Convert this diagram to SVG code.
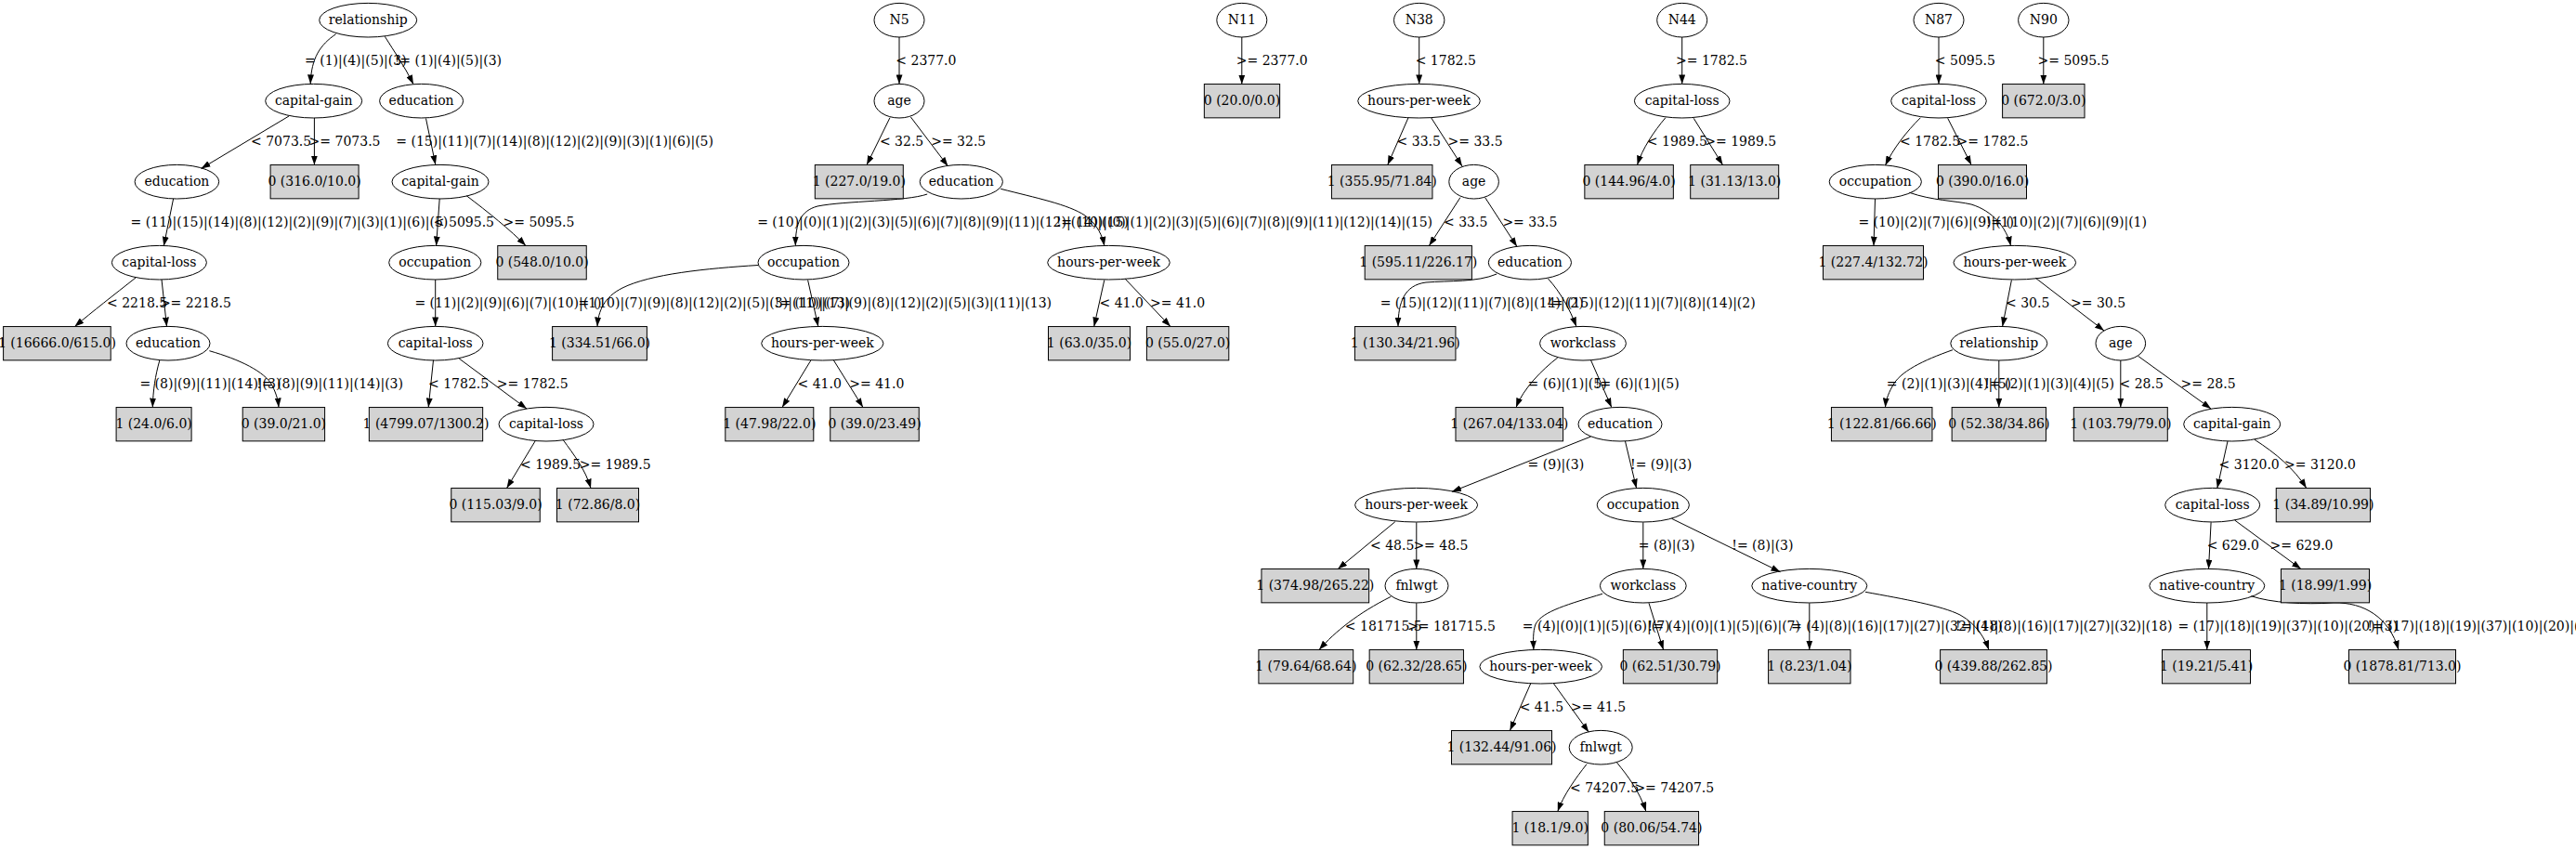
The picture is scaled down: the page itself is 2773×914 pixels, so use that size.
<svg xmlns="http://www.w3.org/2000/svg" width="2773" height="914" viewBox="0 0 2773 914">
<style>
text{font-family:"DejaVu Serif","Liberation Serif",serif;font-size:14px;fill:#000}
.node ellipse{fill:none;stroke:#000;stroke-width:1}
.leaf rect{fill:#d3d3d3;stroke:#000;stroke-width:1}
.node text,.leaf text{text-anchor:middle}
#connectors path{fill:none;stroke:#000;stroke-width:1;marker-end:url(#ah)}
.s{text-anchor:start}.e{text-anchor:end}
</style>
<defs>
<marker id="ah" markerUnits="userSpaceOnUse" markerWidth="10" markerHeight="7" refX="10" refY="3.5" orient="auto"><path d="M0,0 L10,3.5 L0,7 z" fill="#000"/></marker>
</defs>
<rect width="2773" height="914" fill="#fff"/>
<g id="connectors">
<path d="M361.6,36.7 C345,48 335,62 334.2,90.4"/>
<path d="M414.3,39.3 C424,55 436,72 445,90.7"/>
<path d="M311,125 L216.5,181.5"/>
<path d="M338.4,127 L338.4,177.55"/>
<path d="M458.5,127.5 L468.8,177.3"/>
<path d="M186.6,214 L176.3,264.8"/>
<path d="M473.2,214 L469.6,264.5"/>
<path d="M502.2,210.7 C525,228 550,248 566,264.55"/>
<path d="M146,299 C122,318 100,335 80.4,351.55"/>
<path d="M174,301 L179.5,351.6"/>
<path d="M468.7,301 L468.7,351.4"/>
<path d="M171.9,387.7 C167,405 164.8,420 164.3,438.55"/>
<path d="M225.4,377.7 C258,387 285,400 293,415 C298,425 299.5,432 300,438.55"/>
<path d="M466.5,387.7 L461.2,438.55"/>
<path d="M494.2,386 L567,440"/>
<path d="M576,475 L545.5,525.55"/>
<path d="M606,473.3 C618,490 630,505 636,525.55"/>
<path d="M968,40 L968,90.4"/>
<path d="M958,126.7 L933,177.55"/>
<path d="M980.4,126 L1020.5,179"/>
<path d="M998.2,209 C975,217 910,216 880,222 C862,227 856.3,240 856.3,264.5"/>
<path d="M1077.2,203.3 C1115,213 1150,220 1168,232 C1182,242 1187,255 1188.8,264.7"/>
<path d="M816,285.5 C760,289 700,295 670,310 C650,320 644,335 643,351.55"/>
<path d="M869.6,301.5 L880.8,351.5"/>
<path d="M1188.8,301.5 L1177.7,351.55"/>
<path d="M1211,300 L1260,351.55"/>
<path d="M873,387.7 L842,438.55"/>
<path d="M897.3,387.7 L929,438.55"/>
<path d="M1336.8,40 L1336.8,90.55"/>
<path d="M1527.7,40 L1527.7,90.4"/>
<path d="M1516,126.7 L1493.75,177.55"/>
<path d="M1540.6,126.7 L1574,179"/>
<path d="M1571.9,212.7 L1538.4,264.55"/>
<path d="M1598.7,212.7 L1633,265.5"/>
<path d="M1611.2,295 C1590,304 1560,302 1535,304 C1512,307 1505,325 1505,351.55"/>
<path d="M1666.5,300 C1680,315 1690,333 1696.9,351.5"/>
<path d="M1676.8,385 C1660,398 1640,418 1632,438.55"/>
<path d="M1712.5,387.7 L1734.8,438.5"/>
<path d="M1712.5,470 L1563,529.3"/>
<path d="M1749.5,475 L1761.6,525.6"/>
<path d="M1501.8,561.7 L1440.2,612.55"/>
<path d="M1524.8,562.3 L1524.8,612.4"/>
<path d="M1768.8,562.3 L1768.8,612.4"/>
<path d="M1799.5,558.3 L1916.5,615.7"/>
<path d="M1497.3,642.3 C1462,660 1437,680 1420,699.55"/>
<path d="M1524.8,649.3 L1524.8,699.55"/>
<path d="M1725,639.3 C1690,650 1660,658 1653,672 C1650,680 1650.5,690 1650.9,699.6"/>
<path d="M1775,649.3 L1790.6,699.55"/>
<path d="M1947.8,649.3 L1947.8,699.55"/>
<path d="M2008,637.3 C2050,645 2090,652 2110,662 C2128,672 2137,688 2140.9,699.55"/>
<path d="M1647.8,735.7 L1625.4,786.55"/>
<path d="M1672.3,735.7 L1710.3,788.3"/>
<path d="M1708,822.7 C1696,838 1683,856 1676.8,873.55"/>
<path d="M1740.6,821 C1752,835 1765,852 1771.9,873.55"/>
<path d="M1810.7,40 L1810.7,90.4"/>
<path d="M1792.9,126.7 C1780,142 1768,160 1762.5,177.55"/>
<path d="M1823.2,127.3 L1854.5,177.55"/>
<path d="M2087,40 L2087,90.4"/>
<path d="M2067.4,126.7 C2052,142 2038,160 2029.5,178"/>
<path d="M2096.7,127.3 L2122.1,177.55"/>
<path d="M2018.5,214 L2017,264.55"/>
<path d="M2055.4,207.3 C2080,216 2105,216 2122,220 C2145,227 2160,245 2164.5,264.6"/>
<path d="M2165.4,301.5 L2155.6,351.5"/>
<path d="M2191.3,299.3 L2265,356"/>
<path d="M2102,376.7 C2070,388 2045,400 2037,416 C2032,425 2030,432 2029.5,438.55"/>
<path d="M2151.8,388 L2151.8,438.55"/>
<path d="M2282.8,388 L2282.8,438.55"/>
<path d="M2301.6,383.3 L2380.1,440"/>
<path d="M2398,475 L2386.8,525.6"/>
<path d="M2427,473.3 C2450,488 2470,505 2482.8,525.55"/>
<path d="M2380.1,562.3 L2377.5,612.5"/>
<path d="M2405.6,560 L2477,612.55"/>
<path d="M2375.8,649 L2375.8,699.55"/>
<path d="M2423.4,641.7 C2445,649 2480,651 2512,649 C2545,648 2572,665 2582,699.55"/>
<path d="M2199.8,40 L2199.8,90.55"/>
<g id="edge-labels">
<text class="s" x="328" y="69.7">= (1)|(4)|(5)|(3)</text>
<text class="e" x="540" y="69.7">!= (1)|(4)|(5)|(3)</text>
<text class="s" x="270" y="156.7">&lt; 7073.5</text>
<text class="s" x="332.6" y="156.7">&gt;= 7073.5</text>
<text class="s" x="426.3" y="156.7">= (15)|(11)|(7)|(14)|(8)|(12)|(2)|(9)|(3)|(1)|(6)|(5)</text>
<text class="s" x="140.6" y="243.7">= (11)|(15)|(14)|(8)|(12)|(2)|(9)|(7)|(3)|(1)|(6)|(5)</text>
<text class="e" x="532" y="243.7">&lt; 5095.5</text>
<text class="s" x="541.5" y="243.7">&gt;= 5095.5</text>
<text class="s" x="115" y="330.7">&lt; 2218.5</text>
<text class="s" x="171.9" y="330.7">&gt;= 2218.5</text>
<text class="s" x="446.4" y="330.7">= (11)|(2)|(9)|(6)|(7)|(10)|(1)</text>
<text class="s" x="622.5" y="330.7">= (10)|(7)|(9)|(8)|(12)|(2)|(5)|(3)|(11)|(13)</text>
<text class="e" x="1132" y="330.7">!= (10)|(7)|(9)|(8)|(12)|(2)|(5)|(3)|(11)|(13)</text>
<text class="s" x="150.4" y="417.7">= (8)|(9)|(11)|(14)|(3)</text>
<text class="e" x="434" y="417.7">!= (8)|(9)|(11)|(14)|(3)</text>
<text class="s" x="461" y="417.7">&lt; 1782.5</text>
<text class="s" x="534.8" y="417.7">&gt;= 1782.5</text>
<text class="s" x="560" y="504.7">&lt; 1989.5</text>
<text class="s" x="623.7" y="504.7">&gt;= 1989.5</text>
<text class="s" x="964.3" y="69.7">&lt; 2377.0</text>
<text class="s" x="946.9" y="156.7">&lt; 32.5</text>
<text class="s" x="1002.2" y="156.7">&gt;= 32.5</text>
<text class="s" x="815.2" y="243.7">= (10)|(0)|(1)|(2)|(3)|(5)|(6)|(7)|(8)|(9)|(11)|(12)|(14)|(15)</text>
<text class="e" x="1542" y="243.7">!= (10)|(0)|(1)|(2)|(3)|(5)|(6)|(7)|(8)|(9)|(11)|(12)|(14)|(15)</text>
<text class="s" x="1183.5" y="330.7">&lt; 41.0</text>
<text class="s" x="1238" y="330.7">&gt;= 41.0</text>
<text class="s" x="858.5" y="417.7">&lt; 41.0</text>
<text class="s" x="914.3" y="417.7">&gt;= 41.0</text>
<text class="s" x="1330.8" y="69.7">&gt;= 2377.0</text>
<text class="s" x="1523.7" y="69.7">&lt; 1782.5</text>
<text class="s" x="1503.6" y="156.7">&lt; 33.5</text>
<text class="s" x="1558.5" y="156.7">&gt;= 33.5</text>
<text class="s" x="1554" y="243.7">&lt; 33.5</text>
<text class="s" x="1617.4" y="243.7">&gt;= 33.5</text>
<text class="s" x="1485.7" y="330.7">= (15)|(12)|(11)|(7)|(8)|(14)|(2)</text>
<text class="e" x="1889.7" y="330.7">!= (15)|(12)|(11)|(7)|(8)|(14)|(2)</text>
<text class="s" x="1644.6" y="417.7">= (6)|(1)|(5)</text>
<text class="e" x="1807.6" y="417.7">!= (6)|(1)|(5)</text>
<text class="s" x="1644.6" y="504.7">= (9)|(3)</text>
<text class="s" x="1755" y="504.7">!= (9)|(3)</text>
<text class="s" x="1475" y="591.7">&lt; 48.5</text>
<text class="s" x="1521.4" y="591.7">&gt;= 48.5</text>
<text class="s" x="1763.8" y="591.7">= (8)|(3)</text>
<text class="s" x="1864.3" y="591.7">!= (8)|(3)</text>
<text class="s" x="1447.8" y="678.7">&lt; 181715.5</text>
<text class="e" x="1609.8" y="678.7">&gt;= 181715.5</text>
<text class="s" x="1638.8" y="678.7">= (4)|(0)|(1)|(5)|(6)|(7)</text>
<text class="e" x="1938" y="678.7">!= (4)|(0)|(1)|(5)|(6)|(7)</text>
<text class="s" x="1928" y="678.7">= (4)|(8)|(16)|(17)|(27)|(32)|(18)</text>
<text class="e" x="2338.5" y="678.7">!= (4)|(8)|(16)|(17)|(27)|(32)|(18)</text>
<text class="s" x="2344.5" y="678.7">= (17)|(18)|(19)|(37)|(10)|(20)|(3)</text>
<text class="s" x="2548.4" y="678.7">!= (17)|(18)|(19)|(37)|(10)|(20)|(3)</text>
<text class="s" x="1635.7" y="765.7">&lt; 41.5</text>
<text class="s" x="1691" y="765.7">&gt;= 41.5</text>
<text class="s" x="1690" y="852.7">&lt; 74207.5</text>
<text class="s" x="1759.4" y="852.7">&gt;= 74207.5</text>
<text class="s" x="1804" y="69.7">&gt;= 1782.5</text>
<text class="s" x="1772.8" y="156.7">&lt; 1989.5</text>
<text class="s" x="1835.3" y="156.7">&gt;= 1989.5</text>
<text class="s" x="2082.8" y="69.7">&lt; 5095.5</text>
<text class="s" x="2193.5" y="69.7">&gt;= 5095.5</text>
<text class="s" x="2045" y="156.7">&lt; 1782.5</text>
<text class="s" x="2106.5" y="156.7">&gt;= 1782.5</text>
<text class="s" x="2000.4" y="243.7">= (10)|(2)|(7)|(6)|(9)|(1)</text>
<text class="e" x="2311" y="243.7">!= (10)|(2)|(7)|(6)|(9)|(1)</text>
<text class="s" x="2159" y="330.7">&lt; 30.5</text>
<text class="s" x="2229" y="330.7">&gt;= 30.5</text>
<text class="s" x="2030.8" y="417.7">= (2)|(1)|(3)|(4)|(5)</text>
<text class="e" x="2276" y="417.7">!= (2)|(1)|(3)|(4)|(5)</text>
<text class="s" x="2281.5" y="417.7">&lt; 28.5</text>
<text class="s" x="2347.5" y="417.7">&gt;= 28.5</text>
<text class="s" x="2388.6" y="504.7">&lt; 3120.0</text>
<text class="s" x="2459" y="504.7">&gt;= 3120.0</text>
<text class="s" x="2375.7" y="591.7">&lt; 629.0</text>
<text class="s" x="2443.5" y="591.7">&gt;= 629.0</text>
</g>
</g>
<g id="n_relationship" class="node"><ellipse cx="396.2" cy="21.7" rx="52.5" ry="18.3"/><text x="396.2" y="26.2">relationship</text></g>
<g id="n_capgain1" class="node"><ellipse cx="337.7" cy="108.7" rx="52" ry="18.3"/><text x="337.7" y="113.2">capital-gain</text></g>
<g id="n_edu1" class="node"><ellipse cx="453.6" cy="108.7" rx="45" ry="18.3"/><text x="453.6" y="113.2">education</text></g>
<g id="n_edu2" class="node"><ellipse cx="190.4" cy="195.7" rx="45.3" ry="18.3"/><text x="190.4" y="200.2">education</text></g>
<g id="n_capgain2" class="node"><ellipse cx="474" cy="195.7" rx="52" ry="18.3"/><text x="474" y="200.2">capital-gain</text></g>
<g id="n_caploss1" class="node"><ellipse cx="171.4" cy="282.7" rx="51" ry="18.3"/><text x="171.4" y="287.2">capital-loss</text></g>
<g id="n_occ1" class="node"><ellipse cx="468.3" cy="282.7" rx="49.6" ry="18.3"/><text x="468.3" y="287.2">occupation</text></g>
<g id="n_edu3" class="node"><ellipse cx="181" cy="369.7" rx="45" ry="18.3"/><text x="181" y="374.2">education</text></g>
<g id="n_caploss2" class="node"><ellipse cx="468.7" cy="369.7" rx="51.3" ry="18.3"/><text x="468.7" y="374.2">capital-loss</text></g>
<g id="n_caploss3" class="node"><ellipse cx="588" cy="456.7" rx="51" ry="18.3"/><text x="588" y="461.2">capital-loss</text></g>
<g id="n_N5" class="node"><ellipse cx="968" cy="21.7" rx="27" ry="18.3"/><text x="968" y="26.2">N5</text></g>
<g id="n_age1" class="node"><ellipse cx="968" cy="108.7" rx="27" ry="18.3"/><text x="968" y="113.2">age</text></g>
<g id="n_edu4" class="node"><ellipse cx="1034.8" cy="195.7" rx="44.6" ry="18.3"/><text x="1034.8" y="200.2">education</text></g>
<g id="n_occ2" class="node"><ellipse cx="865" cy="282.7" rx="49" ry="18.3"/><text x="865" y="287.2">occupation</text></g>
<g id="n_hpw1" class="node"><ellipse cx="1193.5" cy="282.7" rx="65.8" ry="18.3"/><text x="1193.5" y="287.2">hours-per-week</text></g>
<g id="n_hpw2" class="node"><ellipse cx="885.3" cy="369.7" rx="65.6" ry="18.3"/><text x="885.3" y="374.2">hours-per-week</text></g>
<g id="n_N11" class="node"><ellipse cx="1336.8" cy="21.7" rx="27" ry="18.3"/><text x="1336.8" y="26.2">N11</text></g>
<g id="n_N38" class="node"><ellipse cx="1527.7" cy="21.7" rx="27.2" ry="18.3"/><text x="1527.7" y="26.2">N38</text></g>
<g id="n_hpw3" class="node"><ellipse cx="1527.5" cy="108.7" rx="65.8" ry="18.3"/><text x="1527.5" y="113.2">hours-per-week</text></g>
<g id="n_age2" class="node"><ellipse cx="1586.6" cy="195.7" rx="26.8" ry="18.3"/><text x="1586.6" y="200.2">age</text></g>
<g id="n_edu5" class="node"><ellipse cx="1646.9" cy="282.7" rx="44.6" ry="18.3"/><text x="1646.9" y="287.2">education</text></g>
<g id="n_workclass1" class="node"><ellipse cx="1704" cy="369.7" rx="46.4" ry="18.3"/><text x="1704" y="374.2">workclass</text></g>
<g id="n_edu6" class="node"><ellipse cx="1744" cy="456.7" rx="45" ry="18.3"/><text x="1744" y="461.2">education</text></g>
<g id="n_hpw4" class="node"><ellipse cx="1524.6" cy="543.7" rx="66" ry="18.3"/><text x="1524.6" y="548.2">hours-per-week</text></g>
<g id="n_occ3" class="node"><ellipse cx="1768.8" cy="543.7" rx="49.6" ry="18.3"/><text x="1768.8" y="548.2">occupation</text></g>
<g id="n_fnlwgt1" class="node"><ellipse cx="1525" cy="630.7" rx="34" ry="18.3"/><text x="1525" y="635.2">fnlwgt</text></g>
<g id="n_workclass2" class="node"><ellipse cx="1768.8" cy="630.7" rx="46.4" ry="18.3"/><text x="1768.8" y="635.2">workclass</text></g>
<g id="n_native1" class="node"><ellipse cx="1947.8" cy="630.7" rx="62" ry="18.3"/><text x="1947.8" y="635.2">native-country</text></g>
<g id="n_hpw5" class="node"><ellipse cx="1658.7" cy="717.7" rx="65.8" ry="18.3"/><text x="1658.7" y="722.2">hours-per-week</text></g>
<g id="n_fnlwgt2" class="node"><ellipse cx="1723.2" cy="804.7" rx="34" ry="18.3"/><text x="1723.2" y="809.2">fnlwgt</text></g>
<g id="n_N44" class="node"><ellipse cx="1810.7" cy="21.7" rx="27" ry="18.3"/><text x="1810.7" y="26.2">N44</text></g>
<g id="n_caploss4" class="node"><ellipse cx="1810.7" cy="108.7" rx="51.3" ry="18.3"/><text x="1810.7" y="113.2">capital-loss</text></g>
<g id="n_N87" class="node"><ellipse cx="2087" cy="21.7" rx="27" ry="18.3"/><text x="2087" y="26.2">N87</text></g>
<g id="n_caploss5" class="node"><ellipse cx="2087" cy="108.7" rx="51.3" ry="18.3"/><text x="2087" y="113.2">capital-loss</text></g>
<g id="n_occ4" class="node"><ellipse cx="2018.8" cy="195.7" rx="49.6" ry="18.3"/><text x="2018.8" y="200.2">occupation</text></g>
<g id="n_N90" class="node"><ellipse cx="2199.8" cy="21.7" rx="27.2" ry="18.3"/><text x="2199.8" y="26.2">N90</text></g>
<g id="n_hpw6" class="node"><ellipse cx="2168.8" cy="282.7" rx="65.8" ry="18.3"/><text x="2168.8" y="287.2">hours-per-week</text></g>
<g id="n_relationship2" class="node"><ellipse cx="2151.8" cy="369.7" rx="52" ry="18.3"/><text x="2151.8" y="374.2">relationship</text></g>
<g id="n_age3" class="node"><ellipse cx="2282.8" cy="369.7" rx="26.8" ry="18.3"/><text x="2282.8" y="374.2">age</text></g>
<g id="n_capgain3" class="node"><ellipse cx="2402.7" cy="456.7" rx="52" ry="18.3"/><text x="2402.7" y="461.2">capital-gain</text></g>
<g id="n_caploss6" class="node"><ellipse cx="2381.7" cy="543.7" rx="51" ry="18.3"/><text x="2381.7" y="548.2">capital-loss</text></g>
<g id="n_native2" class="node"><ellipse cx="2375.8" cy="630.7" rx="62" ry="18.3"/><text x="2375.8" y="635.2">native-country</text></g>
<g id="l1" class="leaf"><rect x="291.1" y="177.55" width="95" height="36.3"/><text x="338.6" y="200.2">0 (316.0/10.0)</text></g>
<g id="l2" class="leaf"><rect x="535.75" y="264.55" width="95.5" height="36.3"/><text x="583.5" y="287.2">0 (548.0/10.0)</text></g>
<g id="l3" class="leaf"><rect x="3.6" y="351.55" width="115.6" height="36.3"/><text x="61.4" y="374.2">1 (16666.0/615.0)</text></g>
<g id="l4" class="leaf"><rect x="594.6" y="351.55" width="101.8" height="36.3"/><text x="645.5" y="374.2">1 (334.51/66.0)</text></g>
<g id="l5" class="leaf"><rect x="125.1" y="438.55" width="81" height="36.3"/><text x="165.6" y="461.2">1 (24.0/6.0)</text></g>
<g id="l6" class="leaf"><rect x="261.2" y="438.55" width="88.4" height="36.3"/><text x="305.4" y="461.2">0 (39.0/21.0)</text></g>
<g id="l7" class="leaf"><rect x="397.35" y="438.55" width="122.3" height="36.3"/><text x="458.5" y="461.2">1 (4799.07/1300.2)</text></g>
<g id="l8" class="leaf"><rect x="485.75" y="525.55" width="95.5" height="36.3"/><text x="533.5" y="548.2">0 (115.03/9.0)</text></g>
<g id="l9" class="leaf"><rect x="599.5" y="525.55" width="88" height="36.3"/><text x="643.5" y="548.2">1 (72.86/8.0)</text></g>
<g id="l10" class="leaf"><rect x="1296.35" y="90.55" width="81.3" height="36.3"/><text x="1337" y="113.2">0 (20.0/0.0)</text></g>
<g id="l11" class="leaf"><rect x="877.3" y="177.55" width="95" height="36.3"/><text x="924.8" y="200.2">1 (227.0/19.0)</text></g>
<g id="l12" class="leaf"><rect x="1128.5" y="351.55" width="88" height="36.3"/><text x="1172.5" y="374.2">1 (63.0/35.0)</text></g>
<g id="l13" class="leaf"><rect x="1234.4" y="351.55" width="88.4" height="36.3"/><text x="1278.6" y="374.2">0 (55.0/27.0)</text></g>
<g id="l14" class="leaf"><rect x="780.8" y="438.55" width="95" height="36.3"/><text x="828.3" y="461.2">1 (47.98/22.0)</text></g>
<g id="l15" class="leaf"><rect x="893.75" y="438.55" width="95.5" height="36.3"/><text x="941.5" y="461.2">0 (39.0/23.49)</text></g>
<g id="l16" class="leaf"><rect x="1433.45" y="177.55" width="108.5" height="36.3"/><text x="1487.7" y="200.2">1 (355.95/71.84)</text></g>
<g id="l17" class="leaf"><rect x="1705.85" y="177.55" width="95.5" height="36.3"/><text x="1753.6" y="200.2">0 (144.96/4.0)</text></g>
<g id="l18" class="leaf"><rect x="1819.7" y="177.55" width="95" height="36.3"/><text x="1867.2" y="200.2">1 (31.13/13.0)</text></g>
<g id="l19" class="leaf"><rect x="2086.5" y="177.55" width="95" height="36.3"/><text x="2134" y="200.2">0 (390.0/16.0)</text></g>
<g id="l20" class="leaf"><rect x="2155.6" y="90.55" width="88.4" height="36.3"/><text x="2199.8" y="113.2">0 (672.0/3.0)</text></g>
<g id="l21" class="leaf"><rect x="1469.2" y="264.55" width="115.2" height="36.3"/><text x="1526.8" y="287.2">1 (595.11/226.17)</text></g>
<g id="l22" class="leaf"><rect x="1962.5" y="264.55" width="108" height="36.3"/><text x="2016.5" y="287.2">1 (227.4/132.72)</text></g>
<g id="l23" class="leaf"><rect x="1458.45" y="351.55" width="108.5" height="36.3"/><text x="1512.7" y="374.2">1 (130.34/21.96)</text></g>
<g id="l24" class="leaf"><rect x="1567" y="438.55" width="115.6" height="36.3"/><text x="1624.8" y="461.2">1 (267.04/133.04)</text></g>
<g id="l25" class="leaf"><rect x="1971.45" y="438.55" width="108.5" height="36.3"/><text x="2025.7" y="461.2">1 (122.81/66.66)</text></g>
<g id="l26" class="leaf"><rect x="2101.15" y="438.55" width="101.3" height="36.3"/><text x="2151.8" y="461.2">0 (52.38/34.86)</text></g>
<g id="l27" class="leaf"><rect x="2232.3" y="438.55" width="101" height="36.3"/><text x="2282.8" y="461.2">1 (103.79/79.0)</text></g>
<g id="l28" class="leaf"><rect x="1357.95" y="612.55" width="115.7" height="36.3"/><text x="1415.8" y="635.2">1 (374.98/265.22)</text></g>
<g id="l29" class="leaf"><rect x="2450.25" y="525.55" width="101.3" height="36.3"/><text x="2500.9" y="548.2">1 (34.89/10.99)</text></g>
<g id="l30" class="leaf"><rect x="2455.5" y="612.55" width="95" height="36.3"/><text x="2503" y="635.2">1 (18.99/1.99)</text></g>
<g id="l31" class="leaf"><rect x="1354.9" y="699.55" width="101.8" height="36.3"/><text x="1405.8" y="722.2">1 (79.64/68.64)</text></g>
<g id="l32" class="leaf"><rect x="1474.15" y="699.55" width="101.3" height="36.3"/><text x="1524.8" y="722.2">0 (62.32/28.65)</text></g>
<g id="l33" class="leaf"><rect x="1747.35" y="699.55" width="101.3" height="36.3"/><text x="1798" y="722.2">0 (62.51/30.79)</text></g>
<g id="l34" class="leaf"><rect x="1903.6" y="699.55" width="88.4" height="36.3"/><text x="1947.8" y="722.2">1 (8.23/1.04)</text></g>
<g id="l35" class="leaf"><rect x="2088.6" y="699.55" width="114.8" height="36.3"/><text x="2146" y="722.2">0 (439.88/262.85)</text></g>
<g id="l36" class="leaf"><rect x="2327.5" y="699.55" width="95" height="36.3"/><text x="2375" y="722.2">1 (19.21/5.41)</text></g>
<g id="l37" class="leaf"><rect x="2528.5" y="699.55" width="115" height="36.3"/><text x="2586" y="722.2">0 (1878.81/713.0)</text></g>
<g id="l38" class="leaf"><rect x="1562.5" y="786.55" width="108" height="36.3"/><text x="1616.5" y="809.2">1 (132.44/91.06)</text></g>
<g id="l39" class="leaf"><rect x="1628.05" y="873.55" width="81.3" height="36.3"/><text x="1668.7" y="896.2">1 (18.1/9.0)</text></g>
<g id="l40" class="leaf"><rect x="1727.25" y="873.55" width="101.3" height="36.3"/><text x="1777.9" y="896.2">0 (80.06/54.74)</text></g>
</svg>
